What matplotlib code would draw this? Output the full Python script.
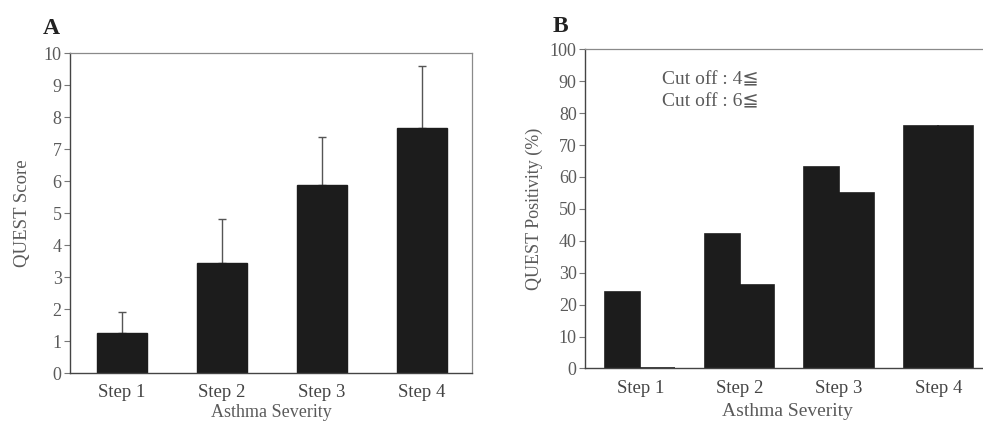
import matplotlib
matplotlib.use("Agg")
import matplotlib.pyplot as plt
import numpy as np

# QUEST score by asthma severity (mean with upper SD)
steps = ["Step 1", "Step 2", "Step 3", "Step 4"]
score_mean = [1.25, 3.45, 5.87, 7.67]
score_sd = [0.65, 1.38, 1.52, 1.93]

# QUEST positivity (%) at two cut-off values
cutoff_labels = ["Cut off : 4\u2266", "Cut off : 6\u2266"]
pos_cut4 = [24, 42, 63, 76]
pos_cut6 = [0, 26, 55, 76]

SERIF = ["Liberation Serif", "DejaVu Serif", "DejaVu Sans"]
plt.rcParams["font.family"] = SERIF
TXT = "#5a5a5a"
BAR = "#1c1c1c"

W, H = 983, 422
fig = plt.figure(figsize=(W / 100, H / 100), dpi=100)
fig.patch.set_facecolor("white")
x = np.arange(len(steps))

# ---- Panel A: mean score with upper error bars ----
axA = fig.add_axes([0.0712, 0.116, 0.409, 0.758])
axA.bar(x, score_mean, width=0.5, color=BAR, edgecolor=BAR, zorder=2)
axA.errorbar(x, score_mean, yerr=[np.zeros(len(x)), score_sd], fmt="none",
             ecolor="#555555", elinewidth=1, capsize=3, capthick=1, zorder=1)
axA.set_xlim(-0.52, 3.5)
axA.set_ylim(0, 10)
axA.set_yticks(range(0, 11))
axA.set_xticks(x)
axA.set_xticklabels(steps)
axA.set_ylabel("QUEST Score", color=TXT, fontsize=13.5, labelpad=9)
fig.text(271 / W, 1.0 / H, "Asthma Severity", fontsize=13, color=TXT,
         ha="center", va="bottom")
axA.text(-0.068, 1.045, "A", transform=axA.transAxes, fontsize=17,
         fontweight="bold", color="#222222", ha="left", va="bottom")

# ---- Panel B: positivity at two cut-offs ----
axB = fig.add_axes([0.5951, 0.127, 0.41, 0.756])
w = 0.35
axB.bar(x - w / 2, pos_cut4, width=w, color=BAR, edgecolor=BAR,
        linewidth=1.2, label=cutoff_labels[0])
axB.bar(x + w / 2, pos_cut6, width=w, color=BAR, edgecolor=BAR,
        linewidth=1.2, label=cutoff_labels[1])
axB.set_xlim(-0.556, 3.5)
axB.set_ylim(0, 100)
axB.set_yticks(range(0, 101, 10))
axB.set_xticks(x)
axB.set_xticklabels(steps)
axB.set_ylabel("QUEST Positivity (%)", color=TXT, fontsize=13, labelpad=5)
fig.text(787 / W, 1.5 / H, "Asthma Severity", fontsize=14, color=TXT,
         ha="center", va="bottom")
axB.text(-0.08, 1.04, "B", transform=axB.transAxes, fontsize=17,
         fontweight="bold", color="#222222", ha="left", va="bottom")
axB.text(0.19, 0.905, cutoff_labels[0], transform=axB.transAxes,
         fontsize=14, color=TXT, ha="left", va="center")
axB.text(0.19, 0.835, cutoff_labels[1], transform=axB.transAxes,
         fontsize=14, color=TXT, ha="left", va="center")
axB.spines["right"].set_visible(False)

for ax in (axA, axB):
    for side in ("left", "bottom"):
        ax.spines[side].set_color("#444444")
        ax.spines[side].set_linewidth(1.0)
    for side in ("top", "right"):
        ax.spines[side].set_color("#8a8a8a")
        ax.spines[side].set_linewidth(0.9)
    ax.tick_params(axis="y", direction="out", length=4, width=0.8,
                   colors="#777777", labelcolor=TXT, labelsize=13, pad=2)
    ax.tick_params(axis="x", length=0, labelcolor="#444444",
                   labelsize=13.5, pad=8)

fig.savefig("out.png", dpi=100, facecolor="white")
